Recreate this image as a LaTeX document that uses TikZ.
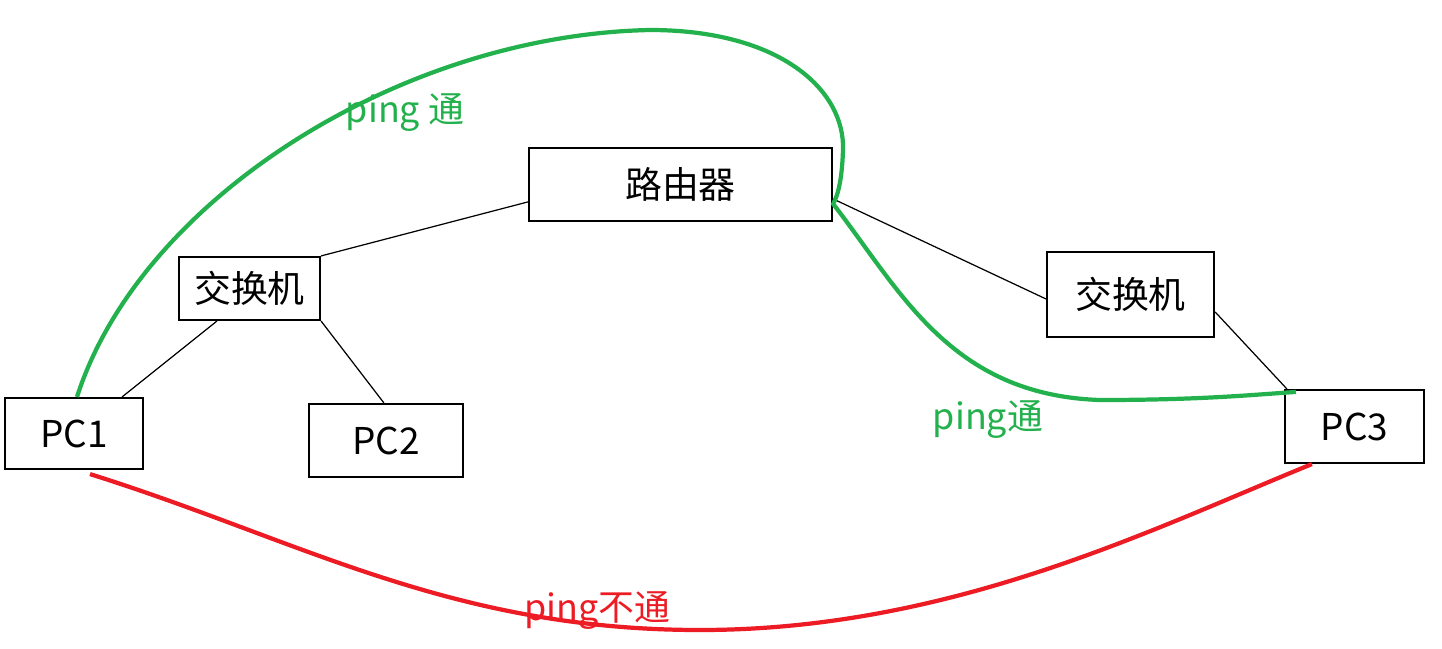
\documentclass[tikz,border=0pt]{standalone}
\usepackage{fontspec}
\setmainfont{Noto Sans CJK SC}
\usetikzlibrary{calc}
\definecolor{pgreen}{HTML}{22B14C}
\definecolor{pred}{HTML}{ED1C24}
\begin{document}
\begin{tikzpicture}[x=0.01cm,y=-0.01cm,
  box/.style={draw=black,line width=0.6pt,inner sep=0pt,font=\fontsize{10.5}{12}\selectfont},
  link/.style={draw=black,line width=0.35pt},
  okpath/.style={draw=pgreen,line width=1.2pt},
  badpath/.style={draw=pred,line width=1.2pt},
  lbl/.style={font=\fontsize{10.2}{12}\selectfont,inner sep=0pt}]
\useasboundingbox[fill=white] (0,0) rectangle (1442,648);
\node[box,minimum width=3.03cm,minimum height=0.73cm] (r) at (680.5,184.5) {路由器};
\node[box,minimum width=1.41cm,minimum height=0.63cm] (sw1) at (249.5,288.5) {交换机};
\node[box,minimum width=1.67cm,minimum height=0.85cm] (sw2) at (1130.5,294.5) {交换机};
\node[box,minimum width=1.38cm,minimum height=0.71cm] (pc1) at (74,433.5) {PC1};
\node[box,minimum width=1.54cm,minimum height=0.73cm] (pc2) at (386,440.5) {PC2};
\node[box,minimum width=1.39cm,minimum height=0.73cm] (pc3) at (1354.5,426.5) {PC3};
\draw[link] ($(r.north west)+(0,55)$) -- (sw1.north east);
\draw[link] ($(pc1.north east)+(-22,0)$) -- ($(sw1.south west)+(39,0)$);
\draw[link] (sw1.south east) -- ($(pc2.north west)+(76,0)$);
\draw[link] ($(r.north east)+(0,52)$) -- ($(sw2.north west)+(0,48)$);
\draw[link] ($(sw2.north east)+(0,61)$) -- ($(pc3.north west)+(3,0)$);
\coordinate (top) at (650,30);
\coordinate (far) at (843,150);
\coordinate (dip) at (1100,400);
\coordinate (low) at (700,630);
\draw[okpath] ($(pc1.north)+(3,0)$) .. controls (140,200) and (400,35) .. (top)
  .. controls (780,30) and (845,90) .. (far)
  .. controls (842,180) and (838,195) .. ($(r.north east)+(0,57)$)
  .. controls (900,290) and (950,395) .. (dip)
  .. controls (1200,400) and (1250,395) .. ($(pc3.north west)+(12,3)$);
\draw[badpath] ($(pc1.south)+(16,4)$) .. controls (300,540) and (450,630) .. (low)
  .. controls (950,630) and (1150,530) .. ($(pc3.south west)+(28,0)$);
\node[lbl,text=pgreen] (l1) at (405,113) {ping 通};
\node[lbl,text=pgreen] (l2) at (988,420) {ping通};
\node[lbl,text=pred] (l3) at (597,610) {ping不通};
\end{tikzpicture}
\end{document}
